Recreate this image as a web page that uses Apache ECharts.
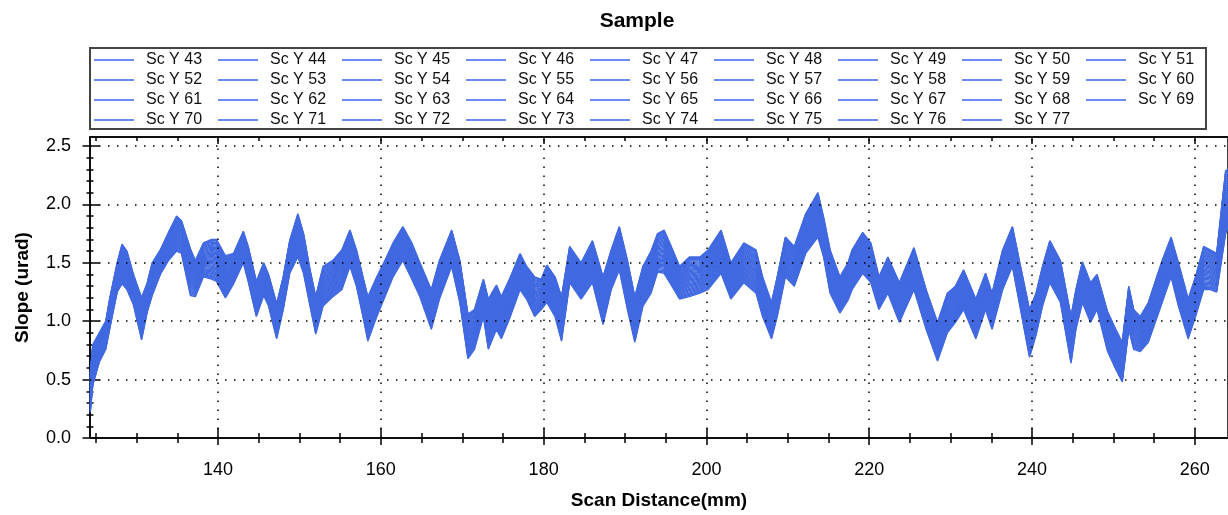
<!DOCTYPE html>
<html>
<head>
<meta charset="utf-8">
<script src="https://cdn.jsdelivr.net/npm/echarts@6/dist/echarts.min.js"></script>
<style>
html,body{margin:0;padding:0;background:#fff;}
#chart{width:1228px;height:515px;}
</style>
</head>
<body>
<div id="chart"></div>
<script>
// ---- data ----
const scanNames = ['Sc Y 43','Sc Y 44','Sc Y 45','Sc Y 46','Sc Y 47','Sc Y 48','Sc Y 49','Sc Y 50','Sc Y 51',
  'Sc Y 52','Sc Y 53','Sc Y 54','Sc Y 55','Sc Y 56','Sc Y 57','Sc Y 58','Sc Y 59','Sc Y 60',
  'Sc Y 61','Sc Y 62','Sc Y 63','Sc Y 64','Sc Y 65','Sc Y 66','Sc Y 67','Sc Y 68','Sc Y 69',
  'Sc Y 70','Sc Y 71','Sc Y 72','Sc Y 73','Sc Y 74','Sc Y 75','Sc Y 76','Sc Y 77'];

// scan distance (mm) of read points
const scanX = [124.3,124.6,125.4,126.2,126.7,127.6,128.2,128.8,129.6,130.6,131.3,131.9,132.9,133.9,134.9,135.5,
  136.6,137.2,138.2,139.2,139.8,140.9,141.9,143.1,143.7,144.7,145.6,146.2,147.2,148.0,148.8,149.8,150.5,
  151.3,152.0,152.9,154.1,155.2,156.2,157.0,157.8,158.4,159.5,160.5,161.5,162.7,163.8,164.8,166.2,167.2,
  168.7,169.7,170.7,171.5,172.6,173.2,174.2,174.8,175.8,177.1,177.9,178.9,179.7,180.4,181.4,182.2,183.2,
  184.6,186.0,187.3,188.3,189.3,190.3,191.2,192.2,193.2,194.0,194.8,195.5,196.7,197.9,199.2,200.2,201.8,
  203.0,204.6,206.1,206.9,208.0,208.7,209.7,210.8,212.2,213.7,214.4,215.2,216.4,217.4,217.9,219.2,220.2,
  221.2,222.3,223.7,225.5,227.0,228.4,229.6,230.6,231.6,233.1,234.3,235.1,236.4,237.6,238.6,239.7,240.5,
  241.3,242.2,243.5,244.8,245.4,246.2,247.2,248.0,249.3,250.3,251.1,251.9,252.5,253.3,254.3,256.0,257.1,
  258.0,259.2,260.1,261.1,261.9,262.7,263.3,263.8,264.1];

// upper edge of the bundle of scans (urad)
const upperBand = [0.55,0.80,0.90,1.00,1.20,1.50,1.66,1.60,1.40,1.20,1.33,1.50,1.61,1.76,1.90,1.86,
  1.62,1.52,1.67,1.70,1.70,1.56,1.58,1.77,1.64,1.34,1.50,1.40,1.15,1.38,1.69,1.92,1.75,
  1.44,1.21,1.47,1.52,1.61,1.78,1.61,1.38,1.21,1.38,1.52,1.67,1.81,1.67,1.50,1.27,1.52,
  1.78,1.52,1.06,1.10,1.36,1.19,1.31,1.21,1.36,1.58,1.47,1.38,1.36,1.48,1.38,1.21,1.64,
  1.50,1.69,1.38,1.61,1.81,1.52,1.21,1.47,1.60,1.75,1.78,1.67,1.47,1.55,1.55,1.61,1.78,
  1.50,1.67,1.61,1.38,1.16,1.38,1.72,1.64,1.92,2.10,1.89,1.61,1.38,1.50,1.61,1.76,1.67,
  1.38,1.55,1.33,1.63,1.27,0.99,1.24,1.30,1.44,1.19,1.41,1.24,1.61,1.81,1.47,1.10,1.24,
  1.47,1.69,1.52,1.04,1.27,1.51,1.33,1.40,1.08,0.93,0.82,1.30,1.10,1.04,1.16,1.52,1.72,
  1.50,1.19,1.38,1.64,1.61,1.58,1.97,2.29,2.30];

// lower edge of the bundle of scans (urad)
const lowerBand = [0.22,0.45,0.65,0.76,0.94,1.25,1.32,1.27,1.14,0.84,1.08,1.22,1.40,1.52,1.60,1.58,
  1.22,1.21,1.38,1.36,1.34,1.20,1.32,1.50,1.34,1.04,1.22,1.13,0.85,1.10,1.41,1.55,1.41,
  1.13,0.89,1.13,1.21,1.27,1.47,1.30,1.04,0.83,1.04,1.21,1.38,1.52,1.36,1.21,0.93,1.19,
  1.47,1.16,0.68,0.76,1.04,0.76,0.93,0.85,1.02,1.27,1.19,1.04,1.10,1.16,1.04,0.83,1.33,
  1.19,1.33,0.97,1.27,1.44,1.10,0.82,1.13,1.24,1.42,1.41,1.33,1.19,1.21,1.24,1.27,1.41,
  1.19,1.33,1.24,1.04,0.85,1.04,1.38,1.30,1.58,1.72,1.55,1.24,1.07,1.18,1.27,1.41,1.33,
  1.10,1.24,0.99,1.27,0.93,0.66,0.90,0.99,1.10,0.85,1.10,0.93,1.27,1.47,1.10,0.69,0.88,
  1.13,1.33,1.16,0.64,0.93,1.16,0.99,1.10,0.74,0.59,0.48,0.93,0.76,0.74,0.82,1.16,1.38,
  1.13,0.85,1.04,1.27,1.27,1.25,1.52,1.75,1.80];

// relative position of each scan inside the bundle (0 = lower edge, 1 = upper edge)
const scanPos = [0.00,0.51,0.24,0.78,0.12,0.63,0.36,0.90,0.06,0.45,0.69,0.18,0.84,0.30,0.57,0.96,0.03,
  0.39,0.72,0.15,0.48,0.87,0.27,0.60,0.09,0.81,0.33,0.66,0.21,0.93,0.42,0.54,0.75,0.98,1.00];

const xMajorTicks = [140,160,180,200,220,240,260];
const xMinorTicks = [125,130,135,140,145,150,155,160,165,170,175,180,185,190,195,200,205,210,215,220,225,230,235,240,245,250,255,260];
const yMajorTicks = [0,0.5,1.0,1.5,2.0,2.5];
const yMinorTicks = [0,0.1,0.2,0.3,0.4,0.5,0.6,0.7,0.8,0.9,1.0,1.1,1.2,1.3,1.4,1.5,1.6,1.7,1.8,1.9,2.0,2.1,2.2,2.3,2.4,2.5];
const yGridLines = [0.5,1.0,1.5,2.0,2.5];

// ---- chart ----
const FONT = '"Liberation Sans", Arial, sans-serif';
const XMIN = 124.26, XMAX = 264.09, YMIN = 0, YMAX = 2.577;
const BLUE = '#4169E1';

function xAx(opt) {
  return Object.assign({
    type: 'value', min: XMIN, max: XMAX, gridIndex: 0, position: 'bottom', offset: 8,
    axisLine: { show: false }, splitLine: { show: false }, axisLabel: { show: false }
  }, opt);
}
function yAx(opt) {
  return Object.assign({
    type: 'value', min: YMIN, max: YMAX, gridIndex: 0, position: 'left',
    axisLine: { show: false }, splitLine: { show: false }, axisLabel: { show: false }
  }, opt);
}
const tickStyle = { color: '#000', width: 1.5 };

const chart = echarts.init(document.getElementById('chart'), null, { renderer: 'canvas' });

const dataSeries = scanNames.map((name, i) => ({
  name: name,
  type: 'line',
  xAxisIndex: 0, yAxisIndex: 0,
  symbol: 'none',
  silent: true,
  z: 3,
  lineStyle: { width: 1.4, color: BLUE },
  itemStyle: { color: BLUE },
  data: scanX.map((x, j) => [x, lowerBand[j] + scanPos[i] * (upperBand[j] - lowerBand[j])])
}));

const gridSeries = {
  name: 'grid', type: 'line', xAxisIndex: 0, yAxisIndex: 0, data: [], z: 1, silent: true,
  markLine: {
    silent: true, symbol: ['none', 'none'], label: { show: false }, animation: false,
    lineStyle: { color: '#000', width: 1.5, type: [1.5, 7.5] },
    data: xMajorTicks.map(v => ({ xAxis: v })).concat(yGridLines.map(v => ({ yAxis: v })))
  }
};

chart.setOption({
  animation: false,
  backgroundColor: '#fff',
  title: {
    text: 'Sample', left: 632, top: 6, textAlign: 'center',
    textStyle: { fontFamily: FONT, fontSize: 21, fontWeight: 'bold', color: '#000' }
  },
  legend: {
    show: true,
    type: 'plain',
    data: scanNames,
    left: 90, top: 48, width: 1118,
    orient: 'horizontal',
    padding: [4, 0, 1, 4],
    itemGap: 4, itemWidth: 40, itemHeight: 2,
    borderColor: '#444', borderWidth: 2,
    selectedMode: false,
    icon: 'rect',
    itemStyle: { color: '#6a8cf0' },
    textStyle: { fontFamily: FONT, fontSize: 16, color: '#111', width: 68, padding: [0, 0, 0, 7], lineHeight: 15.3 }
  },
  grid: {
    left: 90, right: -2, top: 137, bottom: 76,
    show: true, borderColor: '#000', borderWidth: 1.5, backgroundColor: 'transparent'
  },
  xAxis: [
    xAx({
      axisLine: { show: true, lineStyle: tickStyle },
      axisTick: { show: true, inside: false, length: 7, lineStyle: tickStyle, customValues: xMajorTicks },
      axisLabel: { show: true, customValues: xMajorTicks, margin: 15, fontFamily: FONT, fontSize: 18, color: '#000' },
      name: 'Scan Distance(mm)', nameLocation: 'middle', nameGap: 45,
      nameTextStyle: { fontFamily: FONT, fontSize: 19, fontWeight: 'bold', color: '#000' }
    }),
    xAx({ axisTick: { show: true, inside: false, length: 5, lineStyle: tickStyle, customValues: xMinorTicks } }),
    xAx({ axisTick: { show: true, inside: true, length: 10, lineStyle: tickStyle, customValues: xMajorTicks } }),
    xAx({ axisTick: { show: true, inside: true, length: 5, lineStyle: tickStyle, customValues: xMinorTicks } }),
    xAx({ position: 'top', offset: 0, axisLine: { show: true, lineStyle: tickStyle },
          axisTick: { show: true, inside: true, length: 7, lineStyle: tickStyle, customValues: xMajorTicks } }),
    xAx({ position: 'top', offset: 0,
          axisTick: { show: true, inside: true, length: 4, lineStyle: tickStyle, customValues: xMinorTicks } })
  ],
  yAxis: [
    yAx({
      axisLine: { show: true, lineStyle: tickStyle },
      axisTick: { show: true, inside: false, length: 7.5, lineStyle: tickStyle, customValues: yMajorTicks },
      axisLabel: { show: true, customValues: yMajorTicks, margin: 19, fontFamily: FONT, fontSize: 18, color: '#000',
                   formatter: v => Number(v).toFixed(1) },
      name: 'Slope (urad)', nameLocation: 'middle', nameGap: 58, nameRotate: 90,
      nameTextStyle: { fontFamily: FONT, fontSize: 19, fontWeight: 'bold', color: '#000' }
    }),
    yAx({ axisTick: { show: true, inside: false, length: 3.5, lineStyle: tickStyle, customValues: yMinorTicks } }),
    yAx({ axisTick: { show: true, inside: true, length: 9.5, lineStyle: tickStyle, customValues: yMajorTicks } }),
    yAx({ axisTick: { show: true, inside: true, length: 3.5, lineStyle: tickStyle, customValues: yMinorTicks } })
  ],
  series: [gridSeries].concat(dataSeries)
});
</script>
</body>
</html>
